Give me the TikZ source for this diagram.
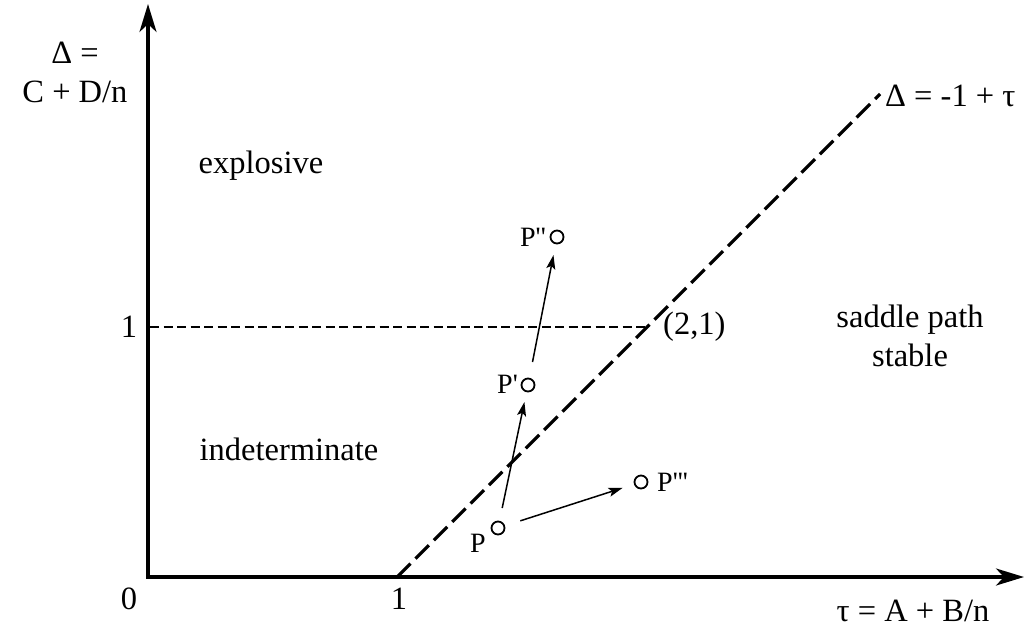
\documentclass[tikz,border=0pt]{standalone}
\usepackage{fontspec}
\setmainfont{Liberation Serif}
\newfontfamily\plainserif{Liberation Serif}
\usetikzlibrary{arrows.meta}
\tikzset{
  axis/.style={line width=3.2pt, line join=miter, {Stealth[length=28pt,width=17pt,inset=8pt]}-{Stealth[length=28pt,width=17pt,inset=8pt]}},
  diag/.style={line width=3.2pt, dash pattern=on 19pt off 7pt},
  hdash/.style={line width=2.7pt, dash pattern=on 9pt off 4.5pt},
  arr/.style={line width=1.5pt, -{Stealth[length=14pt,width=9pt,inset=3pt]}},
  pt/.style={circle, draw, line width=1.8pt, minimum size=13pt, inner sep=0pt},
  lbl/.style={font=\fontsize{32.5}{39}\selectfont, inner sep=0pt, align=center},
  plbl/.style={font=\plainserif\fontsize{28}{32}\selectfont, inner sep=0pt}
}
\begin{document}
\begin{tikzpicture}[x=1pt,y=-1pt]
\useasboundingbox (0,0) rectangle (1025,635);
\coordinate (O) at (148,577);
\coordinate (Ytop) at (148,4);
\coordinate (Xend) at (1024,577);
\coordinate (One) at (397,577);
\coordinate (Dend) at (880,94);
\coordinate (Hl) at (150,327);
\coordinate (Hr) at (645,327);
\draw[axis] (Ytop) -- (O) -- (Xend);
\draw[diag] (One) -- (Dend);
\draw[hdash] (Hl) -- (Hr);
% points
\node[pt] (P) at (498,528) {};
\node[pt] (P1) at (528,385) {};
\node[pt] (P2) at (557,237) {};
\node[pt] (P3) at (641,482) {};
\draw[arr, shorten <=13pt, shorten >=10pt] (P) -- (P1);
\draw[arr, shorten <=16pt, shorten >=11pt] (P1) -- (P2);
\draw[arr, shorten <=16pt, shorten >=12pt] (P) -- (P3);
% point labels
\node[plbl] (LP) at (478,543) {P};
\node[plbl, anchor=east] (LP1) at (518,384) {P'};
\node[plbl, anchor=east] (LP2) at (546,237) {P''};
\node[plbl, anchor=west] (LP3) at (657,482) {P'''};
% axis labels
\node[lbl] (Ylab) at (75,72) {Δ =\\C + D/n};
\node[lbl] (Xlab) at (913,611) {τ = A + B/n};
\node[lbl] (Zero) at (129,599) {0};
\node[lbl] (XOne) at (399,599) {1};
\node[lbl] (YOne) at (129,327) {1};
\node[lbl, anchor=west] (Dlab) at (885,96) {Δ = -1 + τ};
\node[lbl, anchor=west] (Pt21) at (663,327) {(2,1)};
% region labels
\node[lbl] (expl) at (261,166) {explosive};
\node[lbl] (indet) at (289,449) {indeterminate};
\node[lbl] (saddle) at (910,336) {saddle path\\stable};
\end{tikzpicture}
\end{document}
